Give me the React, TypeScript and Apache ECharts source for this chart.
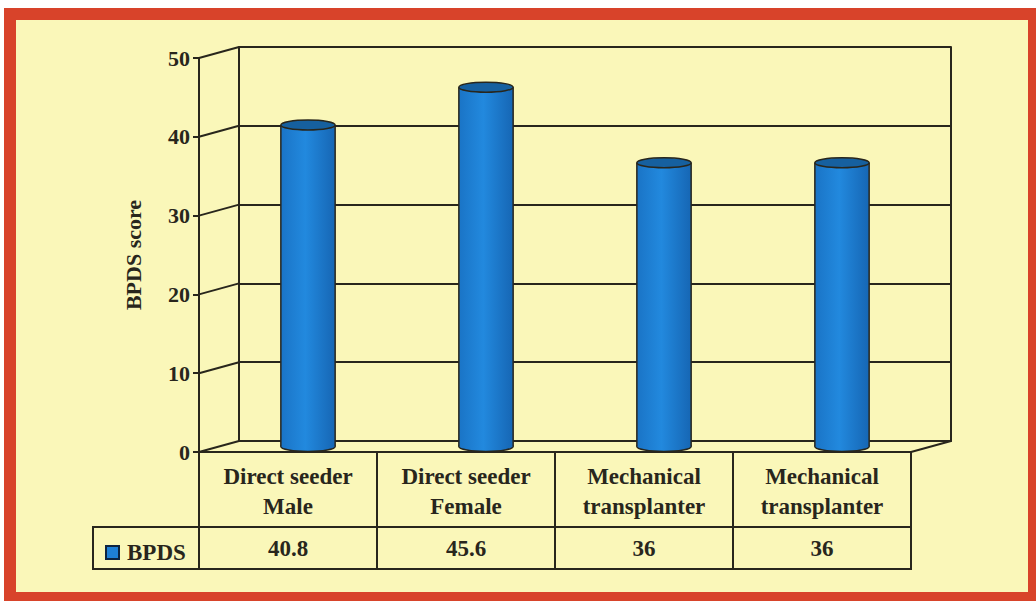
import React, { useEffect, useRef } from "react";
import * as echarts from "echarts";

const categories = [
  "Direct seeder\nMale",
  "Direct seeder\nFemale",
  "Mechanical\ntransplanter",
  "Mechanical\ntransplanter",
];
const seriesName = "BPDS";
const values = [40.8, 45.6, 36, 36];
const valueLabels = ["40.8", "45.6", "36", "36"];
const yTicks = [0, 10, 20, 30, 40, 50];
const axisTitle = "BPDS score";

const FONT = "'Liberation Serif', 'Times New Roman', serif";
const INK = "#28261c";
const BLUE = "#1e80d6";
const DX = 40;
const DY = -11;

export default function App() {
  const ref = useRef<HTMLDivElement>(null);
  useEffect(() => {
    const chart = echarts.init(ref.current!, null, { renderer: "svg" });
    const txt = (size: number) => ({
      fontFamily: FONT,
      fontWeight: "bold",
      fontSize: size,
      color: INK,
    });
    const bodyFill = () =>
      new echarts.graphic.LinearGradient(0, 0, 1, 0, [
        { offset: 0, color: "#1a74c6" },
        { offset: 0.45, color: "#2289de" },
        { offset: 1, color: "#1666b4" },
      ]);

    chart.setOption({
      animation: false,
      backgroundColor: "#ffffff",
      graphic: [
        {
          type: "rect",
          z: -10,
          silent: true,
          shape: { x: 4, y: 8, width: 1032, height: 593 },
          style: { fill: "#d8432a" },
        },
        {
          type: "rect",
          z: -9,
          silent: true,
          shape: { x: 16, y: 20, width: 1012, height: 572 },
          style: { fill: "#faf7b9" },
        },
        {
          type: "rect",
          z: 5,
          silent: true,
          shape: { x: 93, y: 527, width: 106, height: 42 },
          style: { fill: "none", stroke: INK, lineWidth: 2 },
        },
      ],
      legend: {
        left: 100,
        top: 536,
        icon: "rect",
        itemWidth: 13,
        itemHeight: 13,
        textStyle: { ...txt(23), padding: [0, 0, 0, 3] },
        data: [
          {
            name: seriesName,
            itemStyle: { color: BLUE, borderColor: "#0d2440", borderWidth: 2 },
          },
        ],
      },
      grid: [
        { left: 199, top: 58, width: 712, height: 394 },
        { left: 239, top: 47, width: 712, height: 394 },
        { left: 219, top: 52.5, width: 712, height: 394 },
      ],
      xAxis: [
        {
          gridIndex: 0,
          type: "category",
          data: categories,
          axisLine: { show: true, lineStyle: { color: INK, width: 2 } },
          axisTick: { show: false },
          axisLabel: { show: false },
        },
        {
          gridIndex: 1,
          type: "category",
          data: categories,
          axisLine: { show: true, lineStyle: { color: INK, width: 2 } },
          axisTick: { show: false },
          axisLabel: { show: false },
        },
        { gridIndex: 2, type: "category", data: categories, show: false },
      ],
      yAxis: [
        {
          gridIndex: 0,
          type: "value",
          min: 0,
          max: 50,
          interval: 10,
          axisLine: { show: true, lineStyle: { color: INK, width: 2 } },
          axisTick: { show: true, length: 6, lineStyle: { color: INK, width: 2 } },
          axisLabel: { ...txt(22), margin: 9 },
          splitLine: { show: false },
          name: axisTitle,
          nameLocation: "middle",
          nameGap: 55,
          nameRotate: 90,
          nameTextStyle: txt(22),
        },
        {
          gridIndex: 1,
          type: "value",
          min: 0,
          max: 50,
          interval: 10,
          axisLine: { show: true, lineStyle: { color: INK, width: 2 } },
          axisTick: { show: false },
          axisLabel: { show: false },
          splitLine: { show: true, lineStyle: { color: INK, width: 2 } },
        },
        {
          gridIndex: 1,
          type: "value",
          position: "right",
          min: 0,
          max: 50,
          interval: 10,
          axisLine: { show: true, lineStyle: { color: INK, width: 2 } },
          axisTick: { show: false },
          axisLabel: { show: false },
          splitLine: { show: false },
        },
        { gridIndex: 2, type: "value", min: 0, max: 50, show: false },
      ],
      series: [
        {
          type: "custom",
          name: "connectors",
          xAxisIndex: 0,
          yAxisIndex: 0,
          silent: true,
          data: yTicks.map((v) => [0, v]),
          renderItem: (_p: any, api: any) => {
            const v = api.value(1);
            const p = api.coord([0, v]);
            const bw = api.size([1, 0])[0];
            const x0 = p[0] - bw / 2;
            const children: any[] = [
              {
                type: "line",
                shape: { x1: x0, y1: p[1], x2: x0 + DX, y2: p[1] + DY },
                style: { stroke: INK, lineWidth: 2 },
              },
            ];
            if (v === 0) {
              const xr = x0 + bw * categories.length;
              children.push({
                type: "line",
                shape: { x1: xr, y1: p[1], x2: xr + DX, y2: p[1] + DY },
                style: { stroke: INK, lineWidth: 2 },
              });
            }
            return { type: "group", children };
          },
        },
        {
          type: "custom",
          name: seriesName,
          xAxisIndex: 2,
          yAxisIndex: 3,
          z: 4,
          itemStyle: { color: BLUE },
          data: values.map((v, i) => [i, v]),
          renderItem: (_p: any, api: any) => {
            const i = api.value(0);
            const v = api.value(1);
            const top = api.coord([i, v]);
            const bot = api.coord([i, 0]);
            const bw = api.size([1, 0])[0];
            const w = bw * 0.305;
            const rx = w / 2;
            const ry = 5;
            const cx = top[0];
            return {
              type: "group",
              children: [
                {
                  type: "ellipse",
                  shape: { cx, cy: bot[1], rx, ry },
                  style: { fill: bodyFill(), stroke: INK, lineWidth: 1.5 },
                },
                {
                  type: "rect",
                  shape: { x: cx - rx, y: top[1], width: w, height: bot[1] - top[1] },
                  style: { fill: bodyFill() },
                },
                {
                  type: "line",
                  shape: { x1: cx - rx, y1: top[1], x2: cx - rx, y2: bot[1] },
                  style: { stroke: INK, lineWidth: 1.5 },
                },
                {
                  type: "line",
                  shape: { x1: cx + rx, y1: top[1], x2: cx + rx, y2: bot[1] },
                  style: { stroke: INK, lineWidth: 1.5 },
                },
                {
                  type: "ellipse",
                  shape: { cx, cy: top[1], rx, ry },
                  style: { fill: "#16609f", stroke: INK, lineWidth: 1.5 },
                },
              ],
            };
          },
        },
        {
          type: "custom",
          name: "table",
          xAxisIndex: 0,
          yAxisIndex: 0,
          silent: true,
          z: 5,
          data: values.map((v, i) => [i, v]),
          renderItem: (_p: any, api: any) => {
            const i = api.value(0);
            const p = api.coord([i, 0]);
            const bw = api.size([1, 0])[0];
            const x0 = p[0] - bw / 2;
            const y0 = p[1];
            const font = {
              fontFamily: FONT,
              fontWeight: "bold",
              fontSize: 23,
              fill: INK,
              align: "center",
              verticalAlign: "middle",
            };
            return {
              type: "group",
              children: [
                {
                  type: "rect",
                  shape: { x: x0, y: y0, width: bw, height: 75 },
                  style: { fill: "none", stroke: INK, lineWidth: 2 },
                },
                {
                  type: "rect",
                  shape: { x: x0, y: y0 + 75, width: bw, height: 42 },
                  style: { fill: "none", stroke: INK, lineWidth: 2 },
                },
                {
                  type: "text",
                  style: {
                    ...font,
                    text: categories[i],
                    x: p[0],
                    y: y0 + 39,
                    lineHeight: 30,
                  },
                },
                {
                  type: "text",
                  style: { ...font, text: valueLabels[i], x: p[0], y: y0 + 96 },
                },
              ],
            };
          },
        },
      ],
    });
    return () => chart.dispose();
  }, []);
  return (
    <div
      ref={ref}
      style={{ position: "absolute", left: 0, top: 0, width: 1036, height: 601 }}
    />
  );
}
